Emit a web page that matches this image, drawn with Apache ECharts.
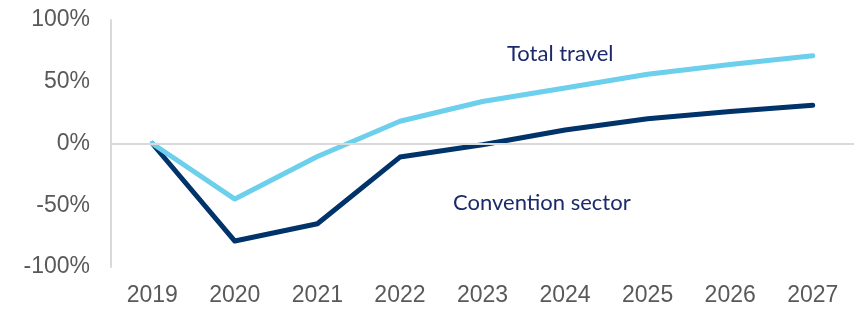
<!DOCTYPE html>
<html>
<head>
<meta charset="utf-8">
<script src="https://cdn.jsdelivr.net/npm/echarts@6/dist/echarts.min.js"></script>
<style>
  html, body { margin: 0; padding: 0; background: #fff; }
  #chart { width: 865px; height: 309px; }
</style>
</head>
<body>
<div id="chart"></div>
<script>
var years = ['2019', '2020', '2021', '2022', '2023', '2024', '2025', '2026', '2027'];
var totalTravel = [0, -45, -10.5, 18, 34, 45, 56, 64, 71];
var conventionSector = [0, -79, -65, -11, -1, 11, 20, 26, 31];
var yTicks = { min: -100, max: 100, step: 50 };

var chart = echarts.init(document.getElementById('chart'));
var option = {
    animation: false,
    grid: { left: 111, right: 11, top: 20, bottom: 42 },
    xAxis: {
        type: 'category',
        data: years,
        boundaryGap: true,
        axisLine: { show: false, onZero: false },
        axisTick: { show: false },
        axisLabel: {
            margin: 17,
            fontFamily: 'Liberation Sans',
            fontSize: 23,
            color: '#595959'
        }
    },
    yAxis: {
        type: 'value',
        min: yTicks.min,
        max: yTicks.max,
        interval: yTicks.step,
        axisLine: { show: true, lineStyle: { color: '#d9d9d9', width: 2 } },
        axisTick: { show: false },
        splitLine: { show: false },
        axisLabel: {
            margin: 21,
            fontFamily: 'Liberation Sans',
            fontSize: 23,
            color: '#595959',
            formatter: '{value}%'
        }
    },
    series: [
        {
            name: 'Total travel',
            type: 'line',
            data: totalTravel,
            showSymbol: false,
            z: 3,
            lineStyle: { color: '#6ccfec', width: 5, cap: 'round', join: 'round' },
            markLine: {
                silent: true,
                symbol: 'none',
                label: { show: false },
                lineStyle: { color: '#d9d9d9', width: 2, type: 'solid' },
                data: [{ yAxis: 0 }]
            }
        },
        {
            name: 'Convention sector',
            type: 'line',
            data: conventionSector,
            showSymbol: false,
            z: 2,
            lineStyle: { color: '#00336a', width: 5, cap: 'round', join: 'round' }
        }
    ],
    graphic: [
        {
            type: 'text', left: 507, top: 43,
            style: { text: 'Total travel', font: '22px Lato', fill: '#1b2a6b' }
        },
        {
            type: 'text', left: 453, top: 192,
            style: { text: 'Convention sector', font: '22px Lato', fill: '#1b2a6b' }
        }
    ]
};
chart.setOption(option);
window.addEventListener('resize', chart.resize);
</script>
</body>
</html>
